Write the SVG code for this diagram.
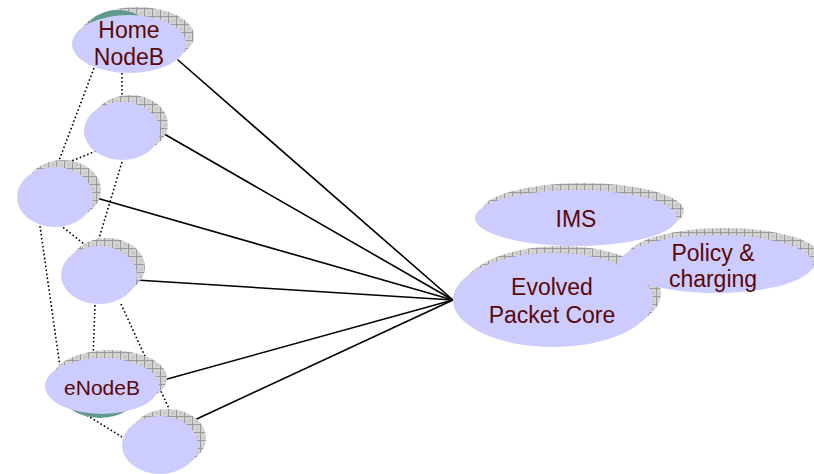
<svg xmlns="http://www.w3.org/2000/svg" width="814" height="474" viewBox="0 0 814 474">
  <defs>
    <pattern id="hatch" width="8" height="8" patternUnits="userSpaceOnUse">
      <rect width="8" height="8" fill="#d2d2d2"/>
      <rect x="0" y="0" width="2" height="2" fill="#c2c2c2"/>
      <rect x="4" y="4" width="2" height="2" fill="#c2c2c2"/>
      <path d="M0 0.5H8M0.5 0V8" stroke="#9a9a9a" stroke-width="1" fill="none"/>
    </pattern>
  </defs>
  <style>
    .shadow { fill: url(#hatch); }
    .fill { fill: #ccccff; }
    .teal { fill: #5f9a8c; }
    .label { font-family: "Liberation Sans", Arial, sans-serif; font-size: 23px; fill: #5a0808; text-anchor: middle; }
    .conn { stroke: #000; stroke-width: 1.6; fill: none; stroke-linecap: round; }
    .dot { stroke: #000; stroke-width: 1.6; fill: none; stroke-dasharray: 1.6 2.4; }
  </style>

  <g id="connectors">
    <line class="conn" x1="178" y1="60" x2="453" y2="300"/>
    <line class="conn" x1="159" y1="131" x2="453" y2="300"/>
    <line class="conn" x1="93" y1="197" x2="453" y2="300"/>
    <line class="conn" x1="136" y1="280" x2="453" y2="300"/>
    <line class="conn" x1="160" y1="381" x2="453" y2="300"/>
    <line class="conn" x1="186" y1="424" x2="453" y2="300"/>
    <line class="dot" x1="94" y1="68" x2="57" y2="166"/>
    <line class="dot" x1="122" y1="73" x2="122" y2="102"/>
    <line class="dot" x1="96" y1="151" x2="57" y2="167"/>
    <line class="dot" x1="122" y1="162" x2="97" y2="245"/>
    <line class="dot" x1="40" y1="226" x2="60" y2="367"/>
    <line class="dot" x1="60" y1="225" x2="84" y2="244"/>
    <line class="dot" x1="95" y1="305" x2="93" y2="358"/>
    <line class="dot" x1="121" y1="304" x2="176" y2="424"/>
    <line class="dot" x1="80" y1="411" x2="122" y2="437"/>
  </g>

  <g id="home-nodeb">
    <ellipse class="shadow" cx="137" cy="36" rx="57" ry="29"/>
    <ellipse class="teal" cx="118" cy="40" rx="36" ry="30"/>
    <ellipse class="fill" cx="129" cy="44" rx="57" ry="29"/>
    <text class="label" x="129" y="38">Home</text>
    <text class="label" x="129" y="65">NodeB</text>
  </g>

  <g id="node2">
    <ellipse class="shadow" cx="130" cy="124" rx="38" ry="29"/>
    <ellipse class="fill" cx="122" cy="131" rx="38" ry="29"/>
  </g>

  <g id="node3">
    <ellipse class="shadow" cx="63" cy="190" rx="38" ry="30"/>
    <ellipse class="fill" cx="55" cy="197" rx="38" ry="30"/>
  </g>

  <g id="node4">
    <ellipse class="shadow" cx="107" cy="267" rx="38" ry="29"/>
    <ellipse class="fill" cx="99" cy="275" rx="38" ry="29"/>
  </g>

  <g id="enodeb">
    <ellipse class="shadow" cx="110" cy="378" rx="57" ry="28"/>
    <ellipse class="teal" cx="100" cy="390" rx="40" ry="28"/>
    <ellipse class="fill" cx="102" cy="386" rx="57" ry="28"/>
    <text class="label" x="102" y="395" style="font-size:21px">eNodeB</text>
  </g>

  <g id="node6">
    <ellipse class="shadow" cx="168" cy="438" rx="38" ry="29"/>
    <ellipse class="fill" cx="160" cy="445" rx="38" ry="29"/>
  </g>

  <g id="ims">
    <ellipse class="shadow" cx="583" cy="211" rx="101" ry="28"/>
    <ellipse class="fill" cx="576" cy="218" rx="101" ry="28"/>
    <text class="label" x="576" y="227">IMS</text>
  </g>

  <g id="epc">
    <ellipse class="shadow" cx="561" cy="293" rx="100" ry="47"/>
    <ellipse class="fill" cx="553" cy="300" rx="100" ry="47"/>
    <text class="label" x="552" y="295">Evolved</text>
    <text class="label" x="552" y="323">Packet Core</text>
  </g>

  <g id="policy">
    <ellipse class="shadow" cx="724" cy="257" rx="97" ry="29"/>
    <ellipse class="fill" cx="716" cy="264" rx="97" ry="29"/>
    <text class="label" x="713" y="261">Policy &amp;</text>
    <text class="label" x="713" y="287">charging</text>
  </g>
</svg>
